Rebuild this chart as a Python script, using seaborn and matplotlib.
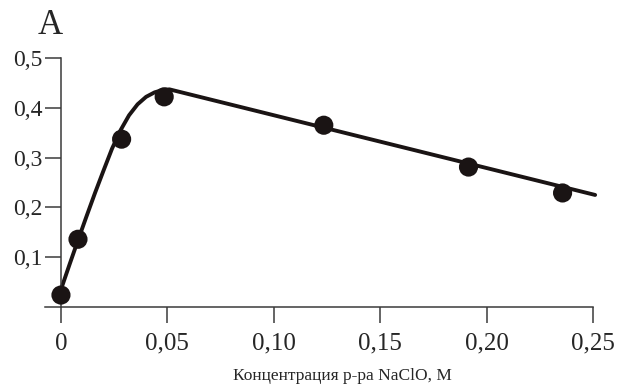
import pandas as pd
import matplotlib.pyplot as plt
import seaborn as sns

# measured points
conc = [0.0, 0.008, 0.0285, 0.0485, 0.1235, 0.1915, 0.2357]
absorb = [0.024, 0.136, 0.337, 0.422, 0.365, 0.281, 0.229]

# fitted curve
curve_x = [0.0, 0.004, 0.008, 0.012, 0.016, 0.020, 0.024, 0.028, 0.032,
           0.036, 0.040, 0.044, 0.048, 0.051, 0.251]
curve_y = [0.035, 0.085, 0.134, 0.182, 0.229, 0.274, 0.318, 0.355, 0.385,
           0.407, 0.422, 0.431, 0.436, 0.437, 0.225]

xticks = [0, 0.05, 0.10, 0.15, 0.20, 0.25]
xtick_labels = ["0", "0,05", "0,10", "0,15", "0,20", "0,25"]
yticks = [0.1, 0.2, 0.3, 0.4, 0.5]
ytick_labels = ["0,1", "0,2", "0,3", "0,4", "0,5"]

pts = pd.DataFrame({"x": conc, "y": absorb})
fit = pd.DataFrame({"x": curve_x, "y": curve_y})

sns.set_style("ticks")
plt.rcParams["font.family"] = ["Liberation Serif", "DejaVu Serif"]

fig = plt.figure(figsize=(6.21, 3.88), dpi=100)
ax = fig.add_axes([45 / 621, 1 - 307 / 388, (593 - 45) / 621, (307 - 58) / 388])

sns.lineplot(data=fit, x="x", y="y", sort=False, color="#1a1414", lw=2.8,
             ax=ax, clip_on=False)
sns.scatterplot(data=pts, x="x", y="y", color="#1a1414", s=190,
                edgecolor="none", ax=ax, clip_on=False, zorder=3)

ax.set_xlim(-0.0075, 0.25)
ax.set_ylim(0, 0.5)
ax.spines["top"].set_visible(False)
ax.spines["right"].set_visible(False)
ax.spines["left"].set_position(("data", 0))
for s in ("left", "bottom"):
    ax.spines[s].set_color("#3a3a3a")
    ax.spines[s].set_linewidth(1.1)

ax.set_xticks(xticks)
ax.set_xticklabels(xtick_labels)
ax.set_yticks(yticks)
ax.set_yticklabels(ytick_labels)
ax.tick_params(axis="x", direction="out", length=11.5, width=1.1,
               color="#3a3a3a", pad=7, labelsize=18)
ax.tick_params(axis="y", direction="out", length=11.5, width=1.1,
               color="#3a3a3a", pad=1.5, labelsize=17)

ax.set_xlabel("Концентрация р-ра NaClO, М", fontsize=12.5, va="top")
ax.xaxis.set_label_coords((342 - 45) / 548, -0.245)
ax.set_ylabel("")
fig.text(50 / 621, 1 - 25 / 388, "A", fontsize=25, ha="center", va="center")

fig.savefig("out.png", dpi=100)
